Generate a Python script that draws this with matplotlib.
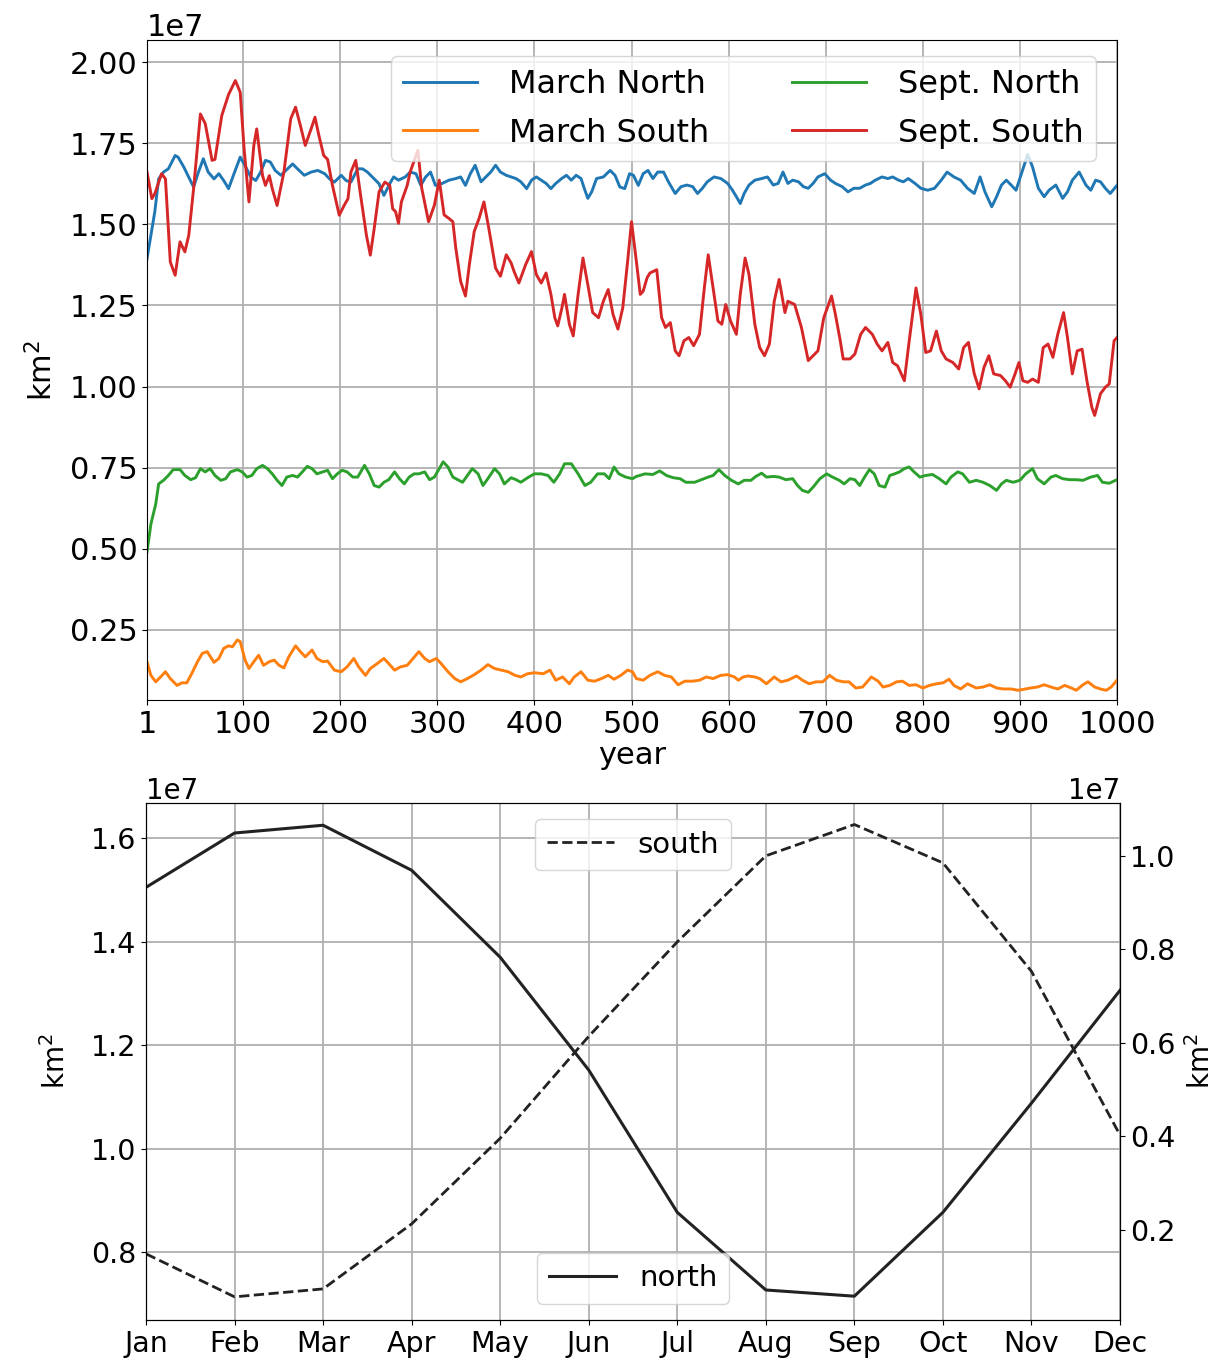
import matplotlib
matplotlib.use("Agg")
import matplotlib.pyplot as plt
import numpy as np

# ---------------- data (values in units of 1e7 km^2) ----------------
mar_north_years = [1, 5, 9, 13, 18, 23, 30, 33, 39, 44, 49, 54, 59, 64, 70, 75, 80, 85, 90, 97,
                   102, 108, 113, 118, 123, 128, 133, 139, 144, 151, 156, 163, 170, 177, 184, 189, 194,
                   201, 206, 211, 218, 223, 228, 235, 240, 245, 251, 255, 260, 267, 272, 278, 283, 288,
                   293, 298, 305, 312, 319, 324, 329, 334, 339, 345, 350, 355, 360, 365, 371, 376, 381,
                   386, 392, 397, 402, 407, 412, 417, 422, 428, 433, 438, 443, 448, 452, 455, 459, 464,
                   471, 478, 483, 488, 493, 498, 502, 507, 512, 517, 522, 527, 533, 538, 545, 551, 557,
                   563, 568, 573, 578, 585, 592, 599, 604, 609, 612, 616, 621, 627, 634, 640, 646, 651,
                   656, 661, 666, 672, 677, 682, 687, 692, 699, 705, 710, 717, 723, 729, 735, 741, 746,
                   751, 758, 764, 769, 775, 780, 785, 792, 798, 805, 812, 819, 825, 832, 839, 846, 853,
                   859, 864, 871, 876, 881, 886, 891, 896, 901, 908, 913, 919, 925, 930, 937, 944, 949,
                   954, 961, 968, 973, 978, 983, 988, 993, 1000]
mar_north = [1.394, 1.466, 1.538, 1.64, 1.661, 1.671, 1.712, 1.707, 1.676, 1.645, 1.615, 1.661, 1.702,
             1.661, 1.64, 1.656, 1.635, 1.61, 1.651, 1.707, 1.681, 1.645, 1.635, 1.661, 1.697, 1.692,
             1.666, 1.651, 1.666, 1.686, 1.671, 1.651, 1.661, 1.666, 1.656, 1.64, 1.63, 1.651, 1.635,
             1.63, 1.671, 1.671, 1.661, 1.64, 1.625, 1.589, 1.625, 1.646, 1.636, 1.646, 1.661, 1.656,
             1.62, 1.646, 1.661, 1.62, 1.626, 1.636, 1.641, 1.646, 1.62, 1.656, 1.682, 1.631, 1.646,
             1.661, 1.682, 1.661, 1.651, 1.646, 1.641, 1.631, 1.61, 1.636, 1.646, 1.636, 1.626, 1.61,
             1.626, 1.641, 1.651, 1.636, 1.651, 1.641, 1.605, 1.58, 1.6, 1.641, 1.646, 1.666, 1.651,
             1.615, 1.61, 1.656, 1.651, 1.62, 1.656, 1.666, 1.641, 1.661, 1.661, 1.631, 1.595, 1.616,
             1.621, 1.616, 1.595, 1.611, 1.631, 1.646, 1.641, 1.626, 1.605, 1.58, 1.564, 1.595, 1.621,
             1.636, 1.641, 1.646, 1.621, 1.626, 1.661, 1.626, 1.636, 1.631, 1.616, 1.611, 1.626, 1.646,
             1.656, 1.636, 1.626, 1.616, 1.6, 1.611, 1.611, 1.621, 1.626, 1.636, 1.646, 1.641, 1.646,
             1.636, 1.631, 1.641, 1.626, 1.611, 1.605, 1.611, 1.636, 1.661, 1.646, 1.636, 1.611, 1.595,
             1.646, 1.6, 1.554, 1.585, 1.621, 1.636, 1.621, 1.605, 1.651, 1.715, 1.677, 1.611, 1.585,
             1.605, 1.621, 1.58, 1.6, 1.636, 1.661, 1.621, 1.605, 1.636, 1.631, 1.611, 1.595, 1.62]

mar_south_years = [1, 5, 10, 15, 20, 25, 32, 37, 42, 47, 53, 58, 63, 70, 75, 80, 85, 89, 94, 97, 102,
                   106, 111, 116, 121, 127, 132, 137, 142, 147, 154, 159, 164, 171, 176, 182, 187, 194,
                   201, 207, 214, 219, 226, 231, 238, 245, 250, 256, 262, 269, 275, 281, 287, 292, 299,
                   304, 311, 318, 324, 331, 338, 345, 352, 359, 366, 373, 380, 386, 393, 400, 409, 416,
                   422, 429, 436, 441, 448, 455, 462, 469, 476, 482, 489, 496, 501, 505, 512, 519, 527,
                   534, 541, 548, 555, 563, 570, 577, 584, 592, 599, 606, 610, 615, 620, 627, 632, 639,
                   647, 654, 661, 670, 676, 683, 690, 697, 704, 711, 718, 724, 731, 738, 747, 754, 759,
                   766, 773, 779, 786, 793, 800, 807, 814, 821, 827, 832, 839, 846, 855, 862, 869, 876,
                   883, 891, 898, 904, 911, 918, 925, 932, 939, 946, 953, 958, 965, 970, 977, 984, 989,
                   994, 1000]
mar_south = [0.152, 0.11, 0.09, 0.105, 0.121, 0.10, 0.079, 0.087, 0.087, 0.115, 0.152, 0.178, 0.183,
             0.15, 0.162, 0.193, 0.201, 0.198, 0.219, 0.214, 0.157, 0.131, 0.152, 0.172, 0.141, 0.152,
             0.157, 0.141, 0.133, 0.167, 0.201, 0.183, 0.167, 0.188, 0.162, 0.152, 0.154, 0.126, 0.121,
             0.136, 0.162, 0.136, 0.11, 0.131, 0.146, 0.162, 0.146, 0.126, 0.136, 0.141, 0.162, 0.183,
             0.162, 0.152, 0.162, 0.146, 0.121, 0.10, 0.09, 0.10, 0.112, 0.126, 0.143, 0.131, 0.126,
             0.121, 0.11, 0.105, 0.115, 0.118, 0.115, 0.126, 0.095, 0.105, 0.084, 0.105, 0.121, 0.095,
             0.092, 0.10, 0.11, 0.098, 0.11, 0.126, 0.121, 0.10, 0.095, 0.11, 0.121, 0.11, 0.105, 0.081,
             0.092, 0.092, 0.095, 0.105, 0.10, 0.11, 0.112, 0.105, 0.095, 0.105, 0.108, 0.105, 0.10,
             0.084, 0.105, 0.09, 0.095, 0.108, 0.095, 0.084, 0.09, 0.09, 0.11, 0.095, 0.09, 0.09, 0.071,
             0.074, 0.105, 0.092, 0.074, 0.079, 0.09, 0.092, 0.079, 0.081, 0.071, 0.079, 0.084, 0.087,
             0.098, 0.079, 0.068, 0.084, 0.071, 0.074, 0.081, 0.071, 0.068, 0.068, 0.064, 0.067, 0.071,
             0.074, 0.081, 0.074, 0.068, 0.079, 0.071, 0.064, 0.081, 0.09, 0.074, 0.067, 0.064, 0.074,
             0.095]

sep_north_years = [1, 5, 10, 13, 18, 23, 28, 35, 40, 46, 51, 56, 61, 66, 71, 77, 82, 87, 94, 99, 104,
                   109, 114, 120, 125, 130, 135, 140, 145, 151, 156, 161, 166, 171, 176, 182, 187, 192,
                   197, 202, 207, 213, 218, 225, 230, 235, 240, 245, 250, 256, 261, 266, 271, 276, 281,
                   287, 292, 297, 302, 306, 311, 316, 321, 326, 331, 336, 342, 347, 352, 359, 364, 369,
                   376, 381, 386, 393, 400, 407, 414, 420, 426, 431, 438, 445, 452, 458, 465, 472, 477,
                   482, 487, 494, 501, 505, 514, 522, 529, 536, 543, 550, 556, 565, 572, 579, 584, 590,
                   596, 603, 610, 616, 623, 628, 634, 639, 646, 652, 659, 666, 671, 676, 682, 687, 694,
                   701, 707, 714, 719, 725, 730, 735, 740, 745, 750, 755, 761, 766, 771, 776, 781, 786,
                   791, 797, 803, 810, 817, 824, 829, 836, 841, 848, 855, 862, 869, 876, 881, 886, 893,
                   900, 906, 913, 918, 925, 932, 937, 944, 951, 958, 965, 973, 980, 985, 992, 1000]
sep_north = [0.49, 0.576, 0.638, 0.70, 0.711, 0.726, 0.744, 0.744, 0.726, 0.713, 0.719, 0.747, 0.737,
             0.747, 0.726, 0.711, 0.716, 0.737, 0.744, 0.737, 0.721, 0.726, 0.747, 0.757, 0.747, 0.731,
             0.711, 0.695, 0.721, 0.726, 0.721, 0.737, 0.754, 0.747, 0.731, 0.737, 0.742, 0.716, 0.731,
             0.742, 0.737, 0.721, 0.721, 0.757, 0.731, 0.695, 0.69, 0.705, 0.713, 0.737, 0.716, 0.70,
             0.721, 0.731, 0.731, 0.737, 0.713, 0.721, 0.747, 0.768, 0.752, 0.721, 0.713, 0.705, 0.726,
             0.747, 0.731, 0.695, 0.716, 0.747, 0.731, 0.70, 0.719, 0.713, 0.705, 0.719, 0.731, 0.731,
             0.726, 0.705, 0.731, 0.762, 0.762, 0.731, 0.695, 0.705, 0.731, 0.731, 0.716, 0.752, 0.731,
             0.721, 0.716, 0.723, 0.731, 0.729, 0.74, 0.726, 0.719, 0.716, 0.705, 0.705, 0.713, 0.721,
             0.726, 0.744, 0.726, 0.711, 0.70, 0.711, 0.711, 0.723, 0.733, 0.721, 0.723, 0.721, 0.713,
             0.716, 0.695, 0.68, 0.674, 0.69, 0.716, 0.731, 0.721, 0.711, 0.70, 0.716, 0.713, 0.695,
             0.721, 0.744, 0.731, 0.695, 0.69, 0.726, 0.731, 0.737, 0.747, 0.752, 0.737, 0.721, 0.726,
             0.729, 0.716, 0.70, 0.721, 0.737, 0.731, 0.705, 0.711, 0.705, 0.695, 0.68, 0.70, 0.711,
             0.705, 0.711, 0.731, 0.747, 0.716, 0.70, 0.721, 0.726, 0.716, 0.713, 0.713, 0.711, 0.721,
             0.726, 0.705, 0.702, 0.713]

sep_south_years = [1, 6, 9, 16, 20, 25, 30, 35, 40, 44, 49, 56, 61, 68, 71, 78, 85, 92, 97, 101, 106,
                   111, 114, 120, 123, 127, 130, 135, 142, 149, 154, 159, 164, 170, 174, 178, 183, 187,
                   192, 199, 204, 208, 211, 216, 221, 227, 231, 235, 240, 246, 251, 254, 257, 260, 263,
                   269, 272, 280, 284, 291, 297, 302, 307, 312, 316, 319, 324, 329, 333, 338, 343, 348,
                   353, 360, 365, 371, 376, 379, 384, 391, 397, 402, 407, 412, 417, 421, 424, 428, 431,
                   436, 440, 445, 450, 455, 460, 466, 471, 476, 481, 486, 491, 496, 500, 505, 509, 512,
                   516, 519, 526, 531, 535, 540, 545, 549, 554, 559, 564, 570, 575, 579, 583, 589, 593,
                   597, 602, 608, 612, 617, 621, 627, 632, 637, 642, 647, 652, 658, 661, 668, 675, 682,
                   687, 692, 698, 706, 710, 715, 718, 725, 730, 736, 741, 748, 753, 758, 764, 769, 774,
                   781, 786, 793, 798, 803, 808, 814, 819, 824, 831, 837, 842, 847, 853, 858, 863, 868,
                   873, 880, 885, 890, 895, 899, 903, 908, 913, 919, 924, 929, 934, 939, 945, 949, 954,
                   959, 964, 969, 974, 977, 983, 988, 992, 997, 1000]
sep_south = [1.661, 1.579, 1.594, 1.656, 1.64, 1.384, 1.343, 1.446, 1.415, 1.466, 1.61, 1.84, 1.81,
             1.697, 1.70, 1.835, 1.90, 1.943, 1.907, 1.733, 1.569, 1.743, 1.794, 1.65, 1.62, 1.65, 1.61,
             1.558, 1.661, 1.825, 1.861, 1.804, 1.743, 1.794, 1.83, 1.774, 1.712, 1.70, 1.62, 1.528,
             1.558, 1.579, 1.661, 1.697, 1.589, 1.466, 1.405, 1.487, 1.60, 1.63, 1.62, 1.548, 1.539,
             1.503, 1.569, 1.62, 1.661, 1.728, 1.61, 1.508, 1.559, 1.636, 1.529, 1.518, 1.508, 1.427,
             1.324, 1.279, 1.376, 1.478, 1.518, 1.569, 1.488, 1.365, 1.34, 1.406, 1.381, 1.355, 1.319,
             1.376, 1.416, 1.345, 1.319, 1.35, 1.284, 1.212, 1.187, 1.238, 1.284, 1.192, 1.156, 1.284,
             1.396, 1.314, 1.228, 1.212, 1.263, 1.299, 1.222, 1.177, 1.243, 1.386, 1.508, 1.386, 1.284,
             1.294, 1.335, 1.35, 1.36, 1.212, 1.182, 1.197, 1.11, 1.095, 1.141, 1.151, 1.126, 1.161,
             1.304, 1.406, 1.324, 1.202, 1.192, 1.253, 1.202, 1.161, 1.284, 1.396, 1.345, 1.192, 1.12,
             1.095, 1.131, 1.263, 1.33, 1.228, 1.263, 1.253, 1.182, 1.08, 1.095, 1.11, 1.212, 1.279,
             1.222, 1.141, 1.085, 1.085, 1.10, 1.161, 1.182, 1.161, 1.131, 1.11, 1.136, 1.074, 1.064,
             1.018, 1.141, 1.304, 1.222, 1.105, 1.11, 1.171, 1.11, 1.085, 1.074, 1.054, 1.12, 1.136,
             1.039, 0.993, 1.059, 1.095, 1.039, 1.034, 1.018, 0.998, 1.039, 1.074, 1.018, 1.013, 1.023,
             1.013, 1.12, 1.131, 1.09, 1.161, 1.228, 1.151, 1.039, 1.11, 1.115, 1.018, 0.937, 0.911,
             0.978, 0.998, 1.008, 1.141, 1.151]

months = ["Jan", "Feb", "Mar", "Apr", "May", "Jun", "Jul", "Aug", "Sep", "Oct", "Nov", "Dec"]
north_clim = [1.505, 1.610, 1.625, 1.538, 1.370, 1.152, 0.877, 0.727, 0.715, 0.877, 1.088, 1.306]
south_clim = [0.149, 0.057, 0.074, 0.213, 0.396, 0.614, 0.816, 1.000, 1.067, 0.985, 0.753, 0.403]

SCALE = 1e7

# ---------------- figure ----------------
plt.rcParams['font.family'] = ['DejaVu Sans']
fig = plt.figure(figsize=(12.21, 13.62), dpi=100)
grid_kw = dict(color='#b0b0b0', linewidth=1.3)

# ---- top panel ----
ax1 = fig.add_axes([147/1221, 1-700/1362, (1117-147)/1221, (700-40)/1362])
lw = 2.1
ax1.plot(mar_north_years, np.array(mar_north)*SCALE, color='tab:blue', lw=lw, label='March North')
ax1.plot(mar_south_years, np.array(mar_south)*SCALE, color='tab:orange', lw=lw, label='March South')
ax1.plot(sep_north_years, np.array(sep_north)*SCALE, color='tab:green', lw=lw, label='Sept. North')
ax1.plot(sep_south_years, np.array(sep_south)*SCALE, color='tab:red', lw=lw, label='Sept. South')
ax1.set_xlim(1, 1000)
ax1.set_ylim(0.034*SCALE, 2.068*SCALE)
ax1.set_xticks([1, 100, 200, 300, 400, 500, 600, 700, 800, 900, 1000])
ax1.set_yticks(np.arange(0.25, 2.01, 0.25)*SCALE)
ax1.grid(True, **grid_kw)
ax1.tick_params(labelsize=22)
ax1.yaxis.get_offset_text().set_fontsize(22)
ax1.set_xlabel('year', fontsize=22, labelpad=2)
ax1.set_ylabel('km$^2$', fontsize=22, labelpad=8)
ax1.legend(loc='upper right', ncol=2, fontsize=23, handlelength=2.3, handletextpad=1.0,
           columnspacing=2.6, labelspacing=0.55,
           bbox_to_anchor=(0.985, 0.985), borderaxespad=0.2)

# ---- bottom panel ----
ax2 = fig.add_axes([146/1221, 1-1320/1362, (1120-146)/1221, (1320-803)/1362])
x = np.arange(len(months))
ax2.plot(x, np.array(north_clim)*SCALE, color='#222222', lw=2.2, label='north')
ax2.set_xlim(0, 11)
ax2.set_ylim(0.669*SCALE, 1.668*SCALE)
ax2.set_xticks(x)
ax2.set_xticklabels(months)
ax2.set_yticks(np.arange(0.8, 1.61, 0.2)*SCALE)
ax2.grid(True, **grid_kw)
ax2.tick_params(labelsize=20.5)
ax2.yaxis.get_offset_text().set_fontsize(20)
ax2.set_ylabel('km$^2$', fontsize=20, labelpad=14)
ax2.legend(loc='lower center', fontsize=21, handlelength=2.3, borderaxespad=0.55)

ax3 = ax2.twinx()
ax3.plot(x, np.array(south_clim)*SCALE, color='#222222', lw=2.0, ls='--', label='south')
ax3.set_ylim(0.0075*SCALE, 1.113*SCALE)
ax3.set_yticks(np.arange(0.2, 1.01, 0.2)*SCALE)
ax3.tick_params(labelsize=20.5)
ax3.yaxis.get_offset_text().set_fontsize(20)
ax3.set_ylabel('km$^2$', fontsize=20, labelpad=8)
ax3.legend(loc='upper center', fontsize=21, handlelength=2.3, borderaxespad=0.55)

fig.savefig('out.png', dpi=100)
